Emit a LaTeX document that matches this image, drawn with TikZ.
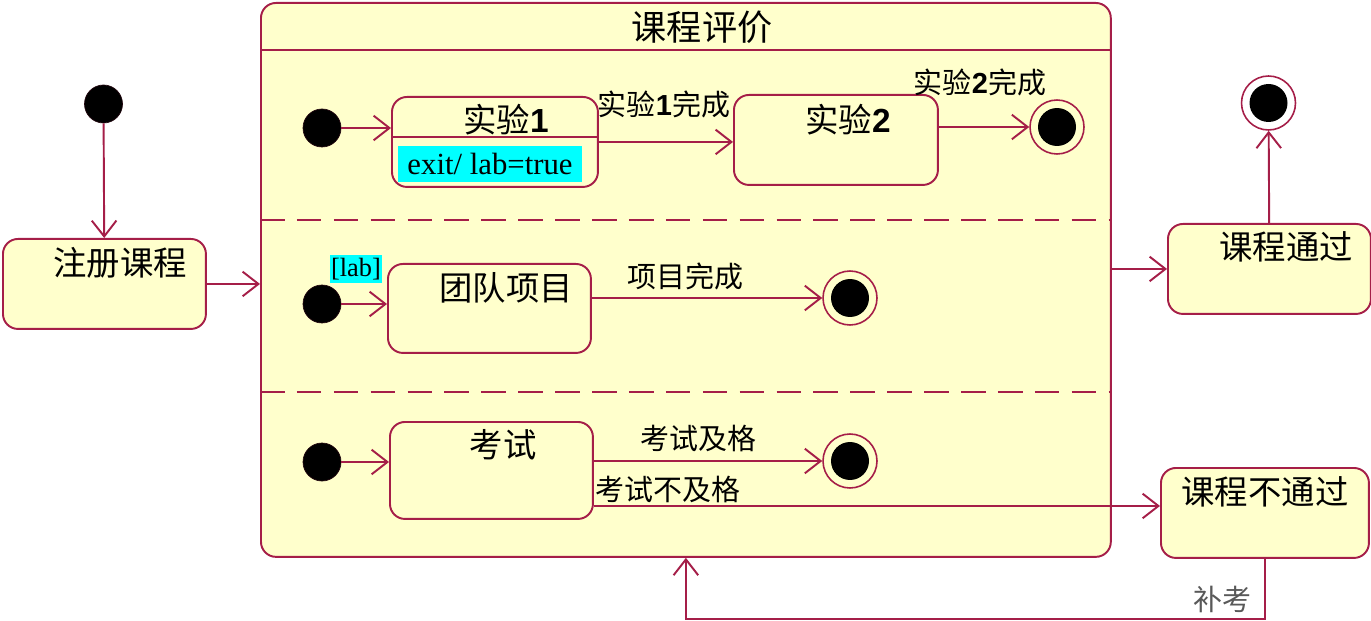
\documentclass[tikz,border=0pt]{standalone}
\usepackage{fontspec}
\setmainfont{Liberation Serif}
\setsansfont{Liberation Sans}
\newfontfamily\cjk{Noto Sans CJK SC}
\usetikzlibrary{arrows.meta}
\definecolor{edge}{RGB}{165,30,72}
\definecolor{statefill}{RGB}{255,255,204}
\definecolor{notecyan}{RGB}{0,255,255}
\tikzset{
  state/.style={draw=edge, fill=statefill, line width=1.1pt, rounded corners=0.3cm, anchor=north west, inner sep=0pt},
  initdot/.style={circle, fill=black, draw=black!80!edge, minimum size=0.76cm, inner sep=0pt},
  finaldot/.style={circle, draw=edge, line width=0.9pt, minimum size=1.08cm, inner sep=0pt,
    path picture={\fill[black] (path picture bounding box.center) circle (0.38cm);}},
  trans/.style={draw=edge, line width=1.1pt, -{Straight Barb[length=9pt,width=14pt,line width=1.1pt]}},
  statename/.style={font=\cjk\fontsize{19}{21}\selectfont, inner sep=0pt},
  event/.style={font=\cjk\fontsize{16.5}{18}\selectfont, inner sep=0pt},
  note/.style={fill=notecyan, inner sep=0pt, font=\fontsize{17.5}{19}\selectfont}
}
\begin{document}
\begin{tikzpicture}[x=0.02cm, y=-0.02cm]
\useasboundingbox (0,0) rectangle (1371,621);

% course registration
\node[initdot] (start) at (103.5,104) {};
\node[state, minimum width=4.06cm, minimum height=1.8cm] (reg) at (2,238) {};
\node[statename] (regtxt) at (120,263) {注册课程};
\draw[trans] (start) -- (reg);

% composite state
\node[state, minimum width=17cm, minimum height=11.08cm] (eval) at (260,2) {};
\node[statename, font=\cjk\fontsize{20}{22}\selectfont] (evaltxt) at (702,27) {课程评价};
\draw[edge, line width=1.1pt] (eval.west |- 0,50) -- (eval.east |- 0,50);
\draw[edge, line width=1.1pt, dash pattern=on 14pt off 7pt] (eval.west |- 0,220) -- (eval.east |- 0,220);
\draw[edge, line width=1.1pt, dash pattern=on 14pt off 7pt] (eval.west |- 0,392) -- (eval.east |- 0,392);
\draw[trans] (reg.east) -- (reg.east -| eval.west);

% region 1: labs
\node[initdot] (i1) at (322,128) {};
\node[state, minimum width=4.12cm, minimum height=1.8cm] (lab1) at (391,96) {};
\node[statename] (lab1txt) at (506,120) {实验{\sffamily\bfseries 1}};
\draw[edge, line width=1.1pt] (lab1.west |- 0,137) -- (lab1.east |- 0,137);
\node[note, minimum width=3.68cm, minimum height=0.72cm] (exit1) at (490,164) {exit/ lab=true};
\node[state, minimum width=4.08cm, minimum height=1.8cm] (lab2) at (733,94) {};
\node[statename] (lab2txt) at (848,120) {实验{\sffamily\bfseries 2}};
\node[finaldot] (f1) at (1057,127) {};
\draw[trans] (i1) -- (i1 -| lab1.west);
\draw[trans] (lab1.east) -- (lab1.east -| lab2.west);
\node[event] (lab1done) at (664,104) {实验{\sffamily\bfseries 1}完成};
\draw[trans] (lab2.east |- f1) -- (f1);
\node[event] (lab2done) at (980,82) {实验{\sffamily\bfseries 2}完成};

% region 2: team project
\node[initdot] (i2) at (322,304) {};
\node[note, minimum width=1.04cm, minimum height=0.58cm, font=\fontsize{15}{17}\selectfont] (guard) at (356,269) {[lab]};
\node[state, minimum width=4.06cm, minimum height=1.78cm] (team) at (387,263) {};
\node[statename] (teamtxt) at (506,288) {团队项目};
\node[finaldot] (f2) at (850,298) {};
\draw[trans] (i2) -- (i2 -| team.west);
\draw[trans] (team.east |- f2) -- (f2);
\node[event] (teamdone) at (685,276) {项目完成};

% region 3: exam
\node[initdot] (i3) at (322,462) {};
\node[state, minimum width=4.06cm, minimum height=1.94cm] (exam) at (389,421) {};
\node[statename] (examtxt) at (503,445) {考试};
\node[finaldot] (f3) at (850,461) {};
\draw[trans] (i3) -- (i3 -| exam.west);
\draw[trans] (exam.east |- f3) -- (f3);
\node[event] (exampass) at (698,438) {考试及格};

% outcomes
\node[state, minimum width=4.06cm, minimum height=1.8cm] (pass) at (1167,223) {};
\node[statename] (passtxt) at (1286,247) {课程通过};
\node[finaldot, draw=edge, fill=white] (fin) at (1268.5,103) {};
\draw[trans] (pass.west -| eval.east) -- (pass.west);
\draw[trans] (pass) -- (fin);

\node[state, minimum width=4.16cm, minimum height=1.8cm] (fail) at (1160,467) {};
\node[statename] (failtxt) at (1265,492) {课程不通过};
\coordinate (failin) at ([yshift=0.14cm]fail.west);
\draw[trans] (failin -| exam.east) -- (failin);
\node[event] (examfail) at (668,489) {考试不及格};

% retake
\draw[trans] (fail.south) -- ++(0,60) -| (eval.south);
\node[event, text=black!65] (retake) at (1222,599) {补考};
\end{tikzpicture}
\end{document}
